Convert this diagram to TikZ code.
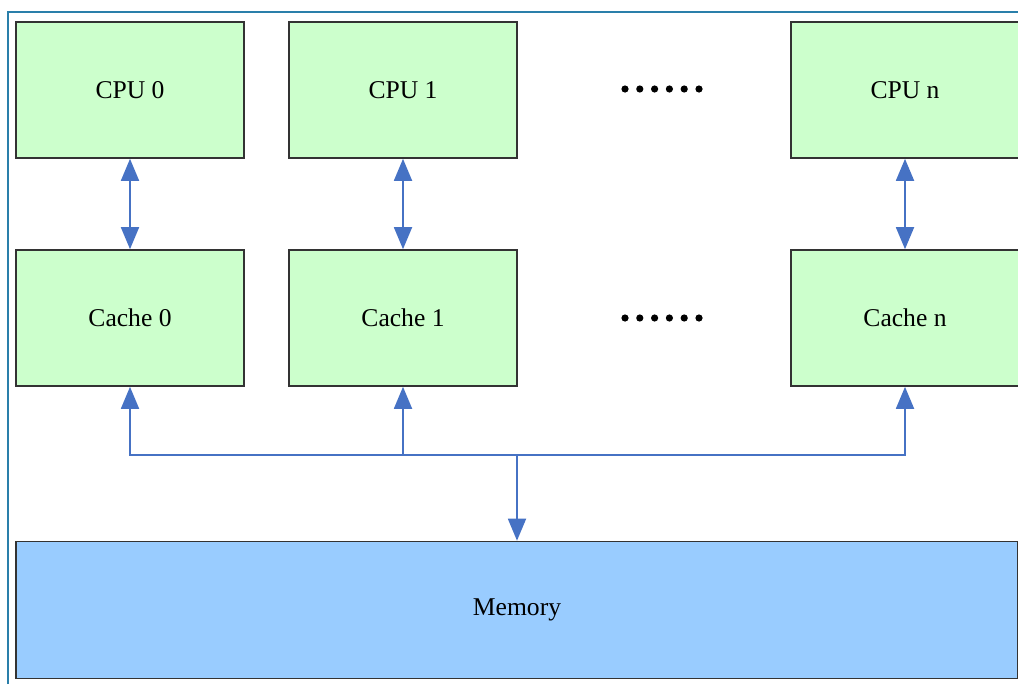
\documentclass[tikz,border=0pt]{standalone}
\usepackage{fontspec}
\setmainfont{Liberation Serif}
\usetikzlibrary{
  arrows.meta,
  positioning,
  calc
}
\definecolor{smpFrame}{HTML}{2A7FAA}
\definecolor{smpCore}{HTML}{CCFFCC}
\definecolor{smpMem}{HTML}{99CCFF}
\definecolor{smpLink}{HTML}{4672C4}
\definecolor{smpEdge}{HTML}{333333}
\tikzset{
  unit/.style={
    draw=smpEdge, line width=0.04cm, minimum width=5.7cm, minimum height=3.4cm,
    font=\fontsize{18.2}{22}\selectfont, inner sep=0pt
  },
  core/.style={unit, fill=smpCore},
  cache/.style={unit, fill=smpCore},
  memory/.style={unit, fill=smpMem, minimum width=25.05cm, minimum height=3.425cm},
  link/.style={{Triangle[length=0.55cm, width=0.45cm]}-{Triangle[length=0.55cm, width=0.45cm]}, line width=0.045cm, smpLink},
  uplink/.style={-{Triangle[length=0.55cm, width=0.45cm]}, line width=0.045cm, smpLink},
  frame/.style={line width=0.04cm, smpFrame},
  dot/.style={fill=black, draw=none}
}

\begin{document}
\begin{tikzpicture}[x=0.025cm, y=-0.025cm]
  \useasboundingbox (0,0) rectangle (1018,684);
  \draw[frame] (8,684) -- (8,12) -- (1018,12);

  % processors
  \node[core] (cpu0) at (130,90) {CPU 0};
  \node[core] (cpu1) at (403,90) {CPU 1};
  \node[core] (cpun) at (905,90) {CPU n};

  % caches
  \node[cache] (cache0) at (130,318) {Cache 0};
  \node[cache] (cache1) at (403,318) {Cache 1};
  \node[cache] (cachen) at (905,318) {Cache n};

  \node[memory] (mem) at (517,610) {Memory};

  \foreach \i in {0,...,5} {
    \fill[dot] ({625+14.8*\i},89) circle (3.6);
    \fill[dot] ({625+14.8*\i},318) circle (3.6);
  }

  \draw[link] (cpu0) -- (cache0);
  \draw[link] (cpu1) -- (cache1);
  \draw[link] (cpun) -- (cachen);

  % bus
  \coordinate (bus) at (517,455);
  \draw[uplink] (bus) -| (cache0.south);
  \draw[uplink] (bus) -| (cache1.south);
  \draw[uplink] (bus) -| (cachen.south);
  \draw[uplink] (bus) -- (mem.north);
\end{tikzpicture}
\end{document}
